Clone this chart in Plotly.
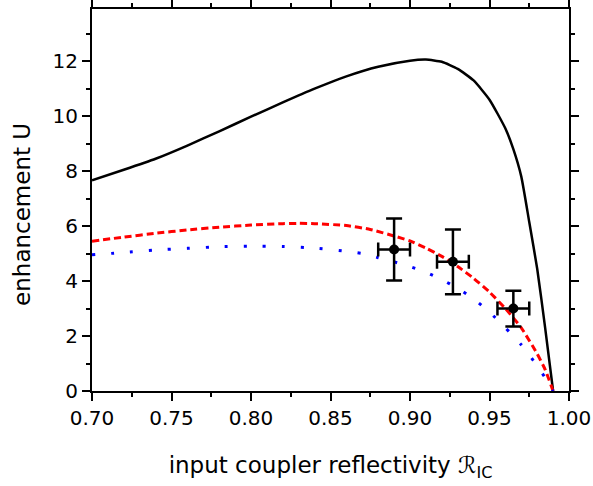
import plotly.graph_objects as go

# --- data ---
r_black = [0.70, 0.72, 0.74, 0.76, 0.78, 0.80, 0.82, 0.84, 0.86, 0.88, 0.90, 0.91,
           0.92, 0.93, 0.94, 0.95, 0.96, 0.965, 0.97, 0.975, 0.98, 0.985, 0.99]
u_black = [7.67, 8.05, 8.45, 8.93, 9.45, 9.98, 10.5, 11.0, 11.45, 11.8, 12.02, 12.06,
           11.98, 11.72, 11.3, 10.6, 9.55, 8.8, 7.8, 6.15, 4.45, 2.3, 0.0]

r_red = [0.70, 0.72, 0.74, 0.76, 0.78, 0.80, 0.82, 0.83, 0.84, 0.86, 0.875, 0.89,
         0.90, 0.91, 0.92, 0.93, 0.94, 0.95, 0.96, 0.97, 0.98, 0.985, 0.99]
u_red = [5.45, 5.6, 5.74, 5.86, 5.96, 6.04, 6.09, 6.10, 6.09, 6.02, 5.88, 5.64,
         5.46, 5.2, 4.9, 4.53, 4.1, 3.6, 3.0, 2.3, 1.35, 0.78, 0.0]

r_blue = [0.70, 0.72, 0.74, 0.76, 0.78, 0.80, 0.82, 0.84, 0.86, 0.87, 0.88, 0.89,
          0.90, 0.91, 0.92, 0.93, 0.94, 0.95, 0.96, 0.97, 0.98, 0.985, 0.99]
u_blue = [4.96, 5.04, 5.13, 5.19, 5.25, 5.27, 5.26, 5.2, 5.08, 5.0, 4.85, 4.7,
          4.53, 4.32, 4.05, 3.74, 3.35, 2.87, 2.3, 1.68, 0.92, 0.48, 0.0]

r_meas = [0.890, 0.927, 0.965]
u_meas = [5.15, 4.70, 3.00]
r_err = [0.010, 0.010, 0.010]
u_err = [1.13, 1.18, 0.65]

x_ticks = [0.70, 0.75, 0.80, 0.85, 0.90, 0.95, 1.00]
x_ticklabels = ["0.70", "0.75", "0.80", "0.85", "0.90", "0.95", "1.00"]
y_ticks = [0, 2, 4, 6, 8, 10, 12]

x_title = "input coupler reflectivity ℛ<sub>IC</sub>"
y_title = "enhancement U"

FONT = "DejaVu Sans"

fig = go.Figure()
fig.add_trace(go.Scatter(x=r_black, y=u_black, mode="lines",
                         line=dict(color="black", width=2.5, shape="spline", smoothing=0.5),
                         showlegend=False))
fig.add_trace(go.Scatter(x=r_red, y=u_red, mode="lines",
                         line=dict(color="#ff0000", width=3, dash="7px,4px", shape="spline", smoothing=0.5),
                         showlegend=False))
fig.add_trace(go.Scatter(x=r_blue, y=u_blue, mode="lines",
                         line=dict(color="#0000ff", width=3, dash="3px,16px", shape="spline", smoothing=0.5),
                         showlegend=False))
fig.add_trace(go.Scatter(x=r_meas, y=u_meas, mode="markers",
                         marker=dict(color="black", size=10),
                         error_x=dict(type="data", array=r_err, color="black", thickness=2.5, width=7),
                         error_y=dict(type="data", array=u_err, color="black", thickness=2.5, width=8),
                         showlegend=False))

tick_font = dict(family=FONT, size=20, color="black")

fig.update_layout(
    width=593, height=486,
    margin=dict(l=92, r=24, t=9, b=95, autoexpand=False),
    plot_bgcolor="white", paper_bgcolor="white",
    xaxis=dict(range=[0.70, 1.00], tickvals=x_ticks, ticktext=x_ticklabels,
               showline=True, linecolor="black", linewidth=2, mirror="allticks",
               ticks="outside", ticklen=8, tickwidth=2, tickcolor="black",
               minor=dict(dtick=0.025, ticks="outside", ticklen=4, tickwidth=2, tickcolor="black"),
               showgrid=False, zeroline=False, tickfont=tick_font,
               title=dict(text=x_title, font=dict(family=FONT, size=23, color="black"), standoff=28)),
    yaxis=dict(range=[0, 13.9], tickvals=y_ticks,
               showline=True, linecolor="black", linewidth=2, mirror="allticks",
               ticks="outside", ticklen=8, tickwidth=2, tickcolor="black",
               minor=dict(dtick=1, ticks="outside", ticklen=4, tickwidth=2, tickcolor="black"),
               showgrid=False, zeroline=False, tickfont=tick_font),
    annotations=[dict(text=y_title, textangle=-90, xref="paper", yref="paper",
                      x=0, y=0.461, xanchor="center", yanchor="middle", xshift=-70,
                      showarrow=False, font=dict(family=FONT, size=23, color="black"))],
)

fig.write_html("out.html", config={"displayModeBar": False},
               post_script="document.body.style.margin='0px';document.body.style.padding='0px';")
